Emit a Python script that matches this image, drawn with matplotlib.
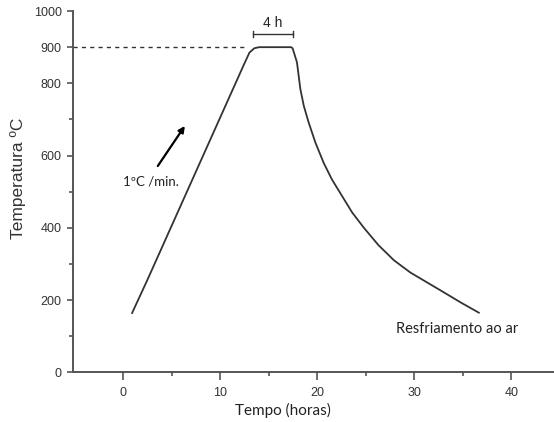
import matplotlib
matplotlib.use("Agg")
import matplotlib.pyplot as plt
from matplotlib.ticker import FixedLocator

plt.rcParams["font.family"] = ["Liberation Sans", "DejaVu Sans"]

# Heat-treatment cycle: heating ramp, 4 h hold at 900 °C, air cooling
time_h = [0.9, 2.5, 12.4, 13.0, 13.5, 14.0, 17.3, 17.45, 17.9, 18.25, 18.6,
          19.1, 19.8, 20.65, 21.5, 22.55, 23.6, 24.8, 26.3, 27.9, 29.6,
          31.3, 33.0, 34.8, 36.65]
temp_c = [164, 257, 850, 885, 897, 900, 900, 897, 858, 784, 738,
          692, 636, 580, 534, 488, 442, 400, 352, 310, 276,
          249, 222, 193, 165]

hold_temp = 900
hold_start, hold_end = 13.4, 17.45
ramp_arrow_tail = (3.55, 571)
ramp_arrow_head = (6.34, 682)

x_major = [0, 10, 20, 30, 40]
x_minor = [5, 15, 25, 35]
y_major = [0, 200, 400, 600, 800, 900, 1000]
y_minor = [100, 300, 500, 700]

ink = "#333333"
spine_col = "#555555"

fig = plt.figure(figsize=(5.54, 4.22), dpi=100)
ax = fig.add_axes([0.1323, 0.1178, 0.8677, 0.856])

ax.plot(time_h, temp_c, color=ink, lw=1.3, solid_joinstyle="round")

# dashed reference line at the holding temperature
ax.plot([-5.16, 12.9], [hold_temp, hold_temp], color=ink, lw=1.0,
        dashes=(3, 3))

# bracket marking the 4 h hold
yb = 937
ax.plot([hold_start, hold_end], [yb, yb], color=ink, lw=1.0)
for xe in (hold_start, hold_end):
    ax.plot([xe, xe], [yb - 8, yb + 8], color=ink, lw=1.0)
ax.text((hold_start + hold_end) / 2, 966, "4 h", ha="center", va="center",
        fontsize=10, color="#222222")

# heating-rate arrow
ax.annotate("", xy=ramp_arrow_head, xytext=ramp_arrow_tail,
            arrowprops=dict(arrowstyle="-|>", color="black", lw=1.6,
                            mutation_scale=9, shrinkA=0, shrinkB=0))
ax.text(2.8, 527, "1ºC /min.", ha="center", va="center", fontsize=9.5,
        color="#222222", family="Lato")

ax.text(28.1, 120, "Resfriamento ao ar", ha="left", va="center",
        fontsize=10.5, color="#222222", family="Lato")

ax.set_xlim(-5.16, 44.4)
ax.set_ylim(0, 1000)

for s in ("top", "right"):
    ax.spines[s].set_visible(False)
for s in ("left", "bottom"):
    ax.spines[s].set_color(spine_col)
    ax.spines[s].set_linewidth(1.4)

ax.xaxis.set_major_locator(FixedLocator(x_major))
ax.xaxis.set_minor_locator(FixedLocator(x_minor))
ax.yaxis.set_major_locator(FixedLocator(y_major))
ax.yaxis.set_minor_locator(FixedLocator(y_minor))

ax.tick_params(axis="both", which="major", direction="out", color=spine_col,
               width=1.2, labelsize=9, labelcolor="#333333")
ax.tick_params(axis="x", which="major", length=5.5, pad=5)
ax.tick_params(axis="y", which="major", length=4.3, pad=4)
ax.tick_params(axis="both", which="minor", direction="out", color=spine_col,
               width=1.2, length=3)

fig.text(18 / 554, 1 - 178 / 422, "Temperatura ºC", rotation=90,
         ha="center", va="center", fontsize=12.5, color="#333333")
fig.text(283 / 554, 1 - 410 / 422, "Tempo (horas)", ha="center",
         va="center", fontsize=11, color="#222222", family="Lato")

fig.savefig("out.png", dpi=100)
